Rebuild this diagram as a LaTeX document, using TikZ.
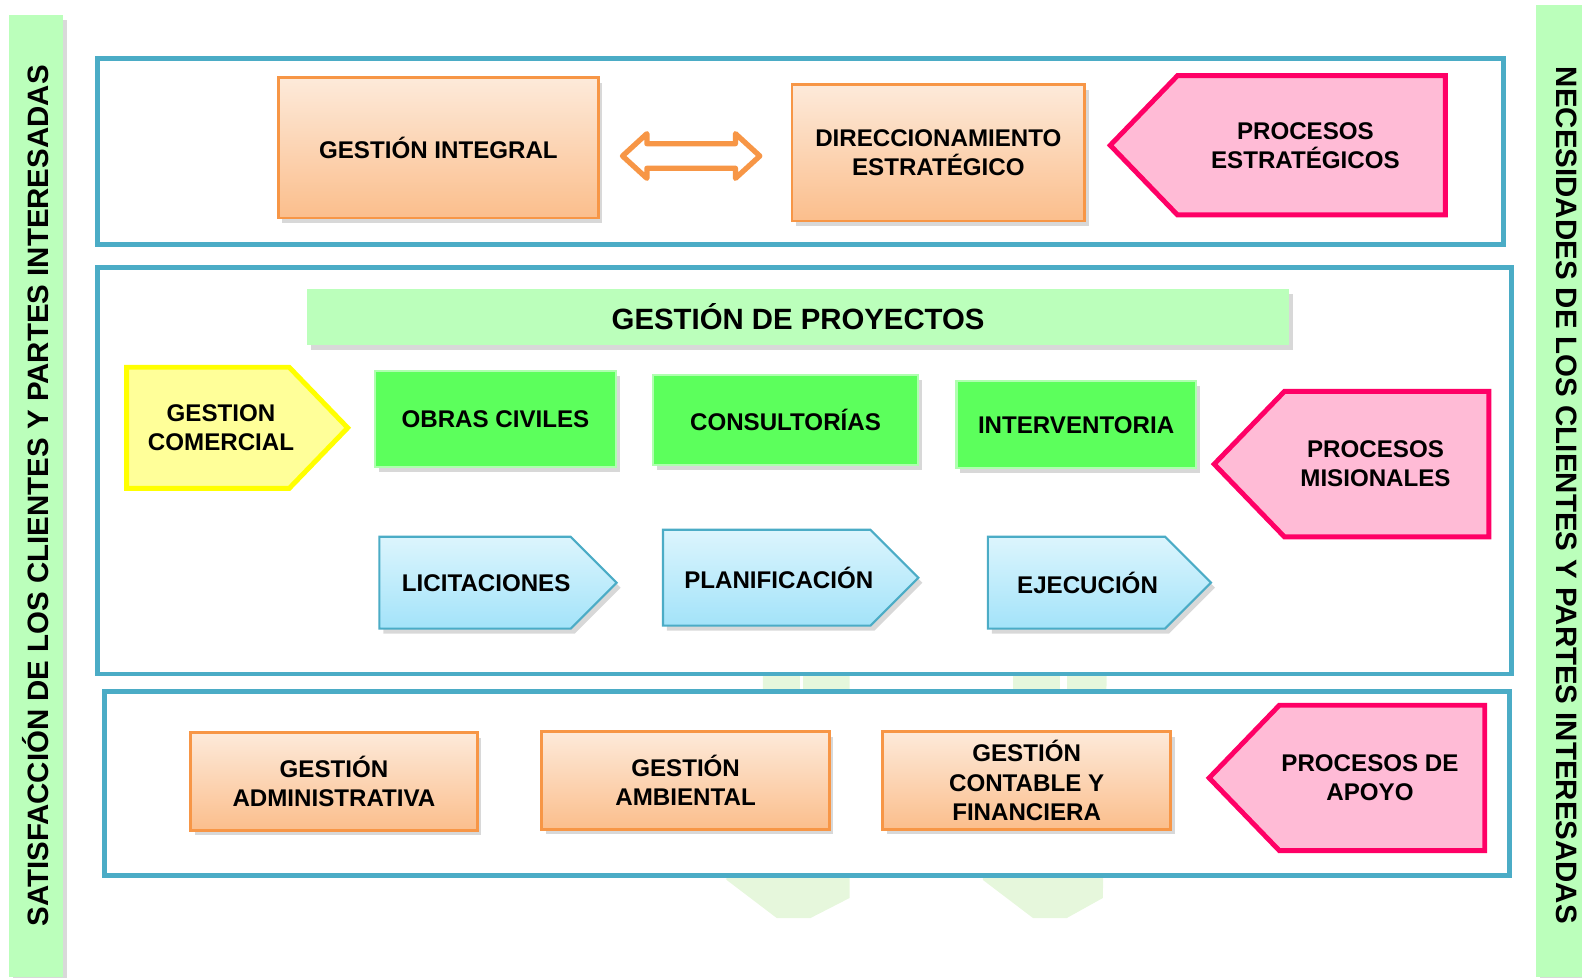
\documentclass[tikz,border=0pt]{standalone}
\usepackage{fontspec}
\setmainfont{Liberation Sans}
\usetikzlibrary{shapes.symbols,shapes.arrows,shadows}

\definecolor{azulmarco}{RGB}{75,172,198}
\definecolor{naranja}{RGB}{247,150,70}
\definecolor{naranjaA}{RGB}{253,234,218}
\definecolor{naranjaB}{RGB}{251,190,140}
\definecolor{rosa}{RGB}{255,187,214}
\definecolor{fucsia}{RGB}{255,0,102}
\definecolor{verdeclaro}{RGB}{187,255,187}
\definecolor{verde}{RGB}{92,255,92}
\definecolor{verdeborde}{RGB}{175,255,175}
\definecolor{celesteA}{RGB}{220,245,253}
\definecolor{celesteB}{RGB}{163,227,249}
\definecolor{amarillo}{RGB}{255,255,153}
\definecolor{amarilloborde}{RGB}{255,255,0}
\definecolor{marcaagua}{RGB}{230,247,220}

\begin{document}
\begin{tikzpicture}[x=0.01cm,y=-0.01cm,scale=1.009,transform shape,
  every node/.style={font={\fontsize{6.8}{8.2}\selectfont\bfseries},align=center,inner sep=0pt},
  sombra/.style={drop shadow={opacity=.3,shadow xshift=.04cm,shadow yshift=-.05cm}},
  marco/.style={draw=azulmarco,line width=1.4pt,fill=white},
  gestion/.style={rectangle,draw=naranja,line width=.8pt,top color=naranjaA,bottom color=naranjaB,sombra},
  linea/.style={rectangle,draw=verdeborde,line width=.6pt,fill=verde,sombra},
  etapa/.style={signal,signal to=east,signal pointer angle=90,draw=azulmarco,line width=.6pt,
    top color=celesteA,bottom color=celesteB,sombra},
  proceso/.style={signal,signal to=west,signal pointer angle=92,draw=fucsia,line width=1.4pt,fill=rosa},
  lateral/.style={rectangle,fill=verdeclaro,sombra,font={\fontsize{8.3}{9.8}\selectfont\bfseries}}]
  \useasboundingbox (0,0) rectangle (1567.9,968.3);

  % marca de agua
  \fill[marcaagua] (756,659) -- (842,659) -- (842,890) -- (803,910) -- (770,910) -- (720,872)
    -- (720,684) -- (756,684) -- cycle;
  \fill[marcaagua] (1004,659) -- (1097,659) -- (1093,890) -- (1057,910) -- (1024,910) -- (974,872)
    -- (974,684) -- (1004,684) -- cycle;
  \fill[white] (793,659) rectangle (796,690);
  \fill[white] (1051,659) rectangle (1057,690);

  % bandas laterales
  \node[lateral,rotate=90,minimum width=9.53cm,minimum height=.53cm] (satisf) at (35.5,491.5)
    {SATISFACCIÓN DE LOS CLIENTES Y PARTES INTERESADAS};
  \node[lateral,rotate=-90,minimum width=9.63cm,minimum height=.62cm] (necesid) at (1553,486.5)
    {\hspace*{.09cm}NECESIDADES DE LOS CLIENTES Y PARTES INTERESADAS};

  % marcos
  \draw[marco] (97,58) rectangle (1490,242);
  \draw[marco] (97,265) rectangle (1498,668);
  \draw[marco] (104,685) rectangle (1496,868);

  % estrategicos
  \node[gestion,minimum width=3.17cm,minimum height=1.39cm] (gi) at (434.5,146.5) {GESTIÓN INTEGRAL};
  \node[gestion,minimum width=2.90cm,minimum height=1.35cm] (de) at (930,151.5) {DIRECCIONAMIENTO\\ESTRATÉGICO};
  \node[double arrow,draw=naranja,line width=1.5pt,line join=round,fill=white,minimum height=1.36cm,
    double arrow head extend=.1cm,double arrow tip angle=85,inner sep=.095cm] (enlace) at (685,154.6) {};
  \node[proceso,minimum width=3.32cm,minimum height=1.38cm,anchor=east] (pest) at (1435,144)
    {\hspace*{-.12cm}PROCESOS\\\hspace*{-.12cm}ESTRATÉGICOS};

  % misionales
  \node[rectangle,fill=verdeclaro,sombra,minimum width=9.72cm,minimum height=.56cm,
    font={\fontsize{8.27}{9.8}\selectfont\bfseries}] (proy) at (791,314) {GESTIÓN DE PROYECTOS};
  \node[signal,signal to=east,signal pointer angle=92,draw=amarilloborde,line width=1.4pt,fill=amarillo,
    minimum width=2.19cm,minimum height=1.20cm,anchor=west] (gc) at (123,424)
    {\hspace*{.13cm}GESTION\kern-.13cm\\\hspace*{.13cm}COMERCIAL\kern-.13cm};
  \node[linea,minimum width=2.38cm,minimum height=.95cm] (oc) at (491,415.5) {OBRAS CIVILES};
  \node[linea,minimum width=2.63cm,minimum height=.89cm] (co) at (778.5,416.5) {CONSULTORÍAS};
  \node[linea,minimum width=2.37cm,minimum height=.86cm] (iv) at (1066.5,421) {INTERVENTORIA};
  \node[proceso,minimum width=2.72cm,minimum height=1.44cm,anchor=east] (pmis) at (1478,460)
    {\hspace*{-.22cm}PROCESOS\\\hspace*{-.22cm}MISIONALES};
  \node[etapa,minimum width=2.35cm,minimum height=.91cm,anchor=west] (li) at (375,577.5)
    {\hspace*{.11cm}LICITACIONES\kern-.11cm};
  \node[etapa,minimum width=2.53cm,minimum height=.95cm,anchor=west] (pl) at (656,572.5)
    {\hspace*{.12cm}PLANIFICACIÓN\kern-.12cm};
  \node[etapa,minimum width=2.21cm,minimum height=.91cm,anchor=west] (ej) at (978,577.5)
    {\hspace*{.11cm}EJECUCIÓN\kern-.11cm};

  % apoyo
  \node[gestion,minimum width=2.84cm,minimum height=.97cm] (ga) at (331,774.5) {GESTIÓN\\ADMINISTRATIVA};
  \node[gestion,minimum width=2.85cm,minimum height=.97cm] (gm) at (679.5,773.5) {GESTIÓN\\AMBIENTAL};
  \node[gestion,minimum width=2.85cm,minimum height=.97cm] (gf) at (1017.5,773.5) {GESTIÓN\\CONTABLE Y\\FINANCIERA};
  \node[proceso,minimum width=2.73cm,minimum height=1.44cm,anchor=east] (pap) at (1474,771)
    {\hspace*{-.24cm}PROCESOS DE\\\hspace*{-.24cm}APOYO};
\end{tikzpicture}
\end{document}
